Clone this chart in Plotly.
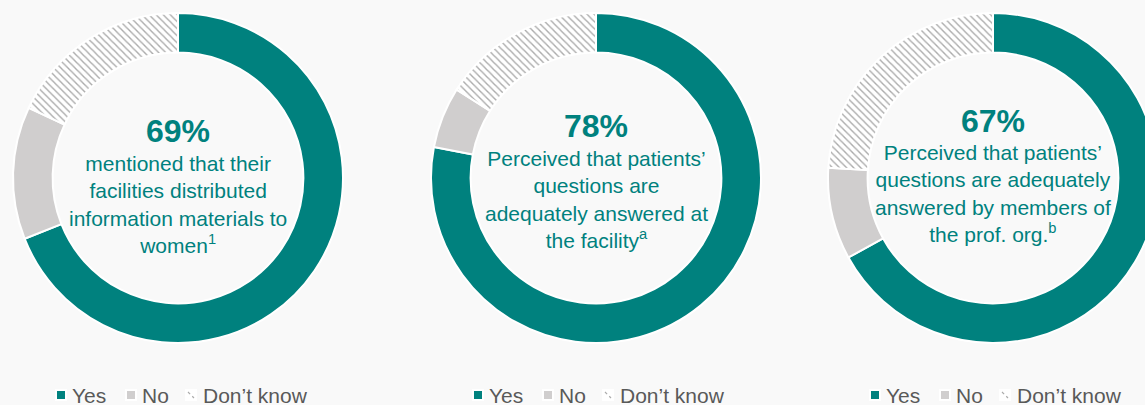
import plotly.graph_objects as go

# Survey answers per question (percent of respondents)
labels = ["Yes", "No", "Don’t know"]
yes_pct = [69, 78, 67]
no_pct = [13, 6, 9]
dontknow_pct = [18, 16, 24]

captions = [
    ["mentioned that their", "facilities distributed",
     "information materials to", "women<sup>1</sup>"],
    ["Perceived that patients’", "questions are",
     "adequately answered at", "the facility<sup>a</sup>"],
    ["Perceived that patients’", "questions are adequately",
     "answered by members of", "the prof. org.<sup>b</sup>"],
]

# Page geometry (pixels)
W, H = 1170, 405
CX = [178, 596, 993]
CY = 178
R = 165
HEAD_Y = [131, 126, 121]
BODY_Y = [204, 199, 194]

# Key rows under each ring: first swatch centre, then per-entry offsets
KEY_X = [61, 478, 875]
KEY_Y = 395
SWATCH_DX = [0, 70, 130]
TEXT_DX = [9, 79, 140]
SWATCH = 10

TEAL = "#00817E"
GREY = "#D0CECE"
HATCH = "#ABABAB"
BG = "#F9F9F9"
FONT = "Arial, Liberation Sans, sans-serif"
slice_colors = [TEAL, GREY, "#FFFFFF"]


def px_x(x):
    return x / W


def px_y(y):
    return (H - y) / H


fig = go.Figure()

for i in range(3):
    fig.add_trace(go.Pie(
        labels=labels,
        values=[yes_pct[i], no_pct[i], dontknow_pct[i]],
        hole=0.76,
        sort=False,
        direction="clockwise",
        rotation=0,
        textinfo="none",
        hoverinfo="label+percent",
        marker=dict(
            colors=slice_colors,
            line=dict(color="#FFFFFF", width=2),
            pattern=dict(shape=["", "", "\\"], fgcolor=HATCH,
                         bgcolor="#FFFFFF", size=5, solidity=0.28),
        ),
        domain=dict(x=[px_x(CX[i] - R), px_x(CX[i] + R)],
                    y=[px_y(CY + R), px_y(CY - R)]),
        showlegend=False,
    ))

    fig.add_annotation(
        x=px_x(CX[i]), y=px_y(HEAD_Y[i]), xref="paper", yref="paper",
        text=f"<b>{yes_pct[i]}%</b>", showarrow=False,
        xanchor="center", yanchor="middle",
        font=dict(family=FONT, size=32, color=TEAL),
    )
    fig.add_annotation(
        x=px_x(CX[i]), y=px_y(BODY_Y[i]), xref="paper", yref="paper",
        text="<br>".join(captions[i]), showarrow=False,
        xanchor="center", yanchor="middle", align="center",
        font=dict(family=FONT, size=21, color=TEAL),
    )

    # key row: swatch + label for each answer
    for k, lab in enumerate(labels):
        sx = KEY_X[i] + SWATCH_DX[k]
        h = SWATCH / 2
        fig.add_shape(
            type="rect", xref="paper", yref="paper",
            x0=px_x(sx - h), x1=px_x(sx + h),
            y0=px_y(KEY_Y + h), y1=px_y(KEY_Y - h),
            fillcolor=slice_colors[k], line=dict(color="#FFFFFF", width=2),
        )
        if k == 2:
            fig.add_shape(
                type="line", xref="paper", yref="paper",
                x0=px_x(sx - 3), x1=px_x(sx + 3),
                y0=px_y(KEY_Y - 3), y1=px_y(KEY_Y + 3),
                line=dict(color=HATCH, width=1.2, dash="dot"),
            )
        fig.add_annotation(
            x=px_x(KEY_X[i] + TEXT_DX[k]), y=px_y(KEY_Y),
            xref="paper", yref="paper", text=lab, showarrow=False,
            xanchor="left", yanchor="middle",
            font=dict(family=FONT, size=21, color="#595959"),
        )

fig.update_layout(
    width=W, height=H,
    margin=dict(l=0, r=0, t=0, b=0, autoexpand=False),
    paper_bgcolor=BG, plot_bgcolor=BG,
    showlegend=False,
)

fig.write_html(
    "out.html",
    post_script=("document.body.style.margin='0';"
                 "document.body.style.overflow='hidden';"
                 "document.documentElement.style.overflow='hidden';"),
)
